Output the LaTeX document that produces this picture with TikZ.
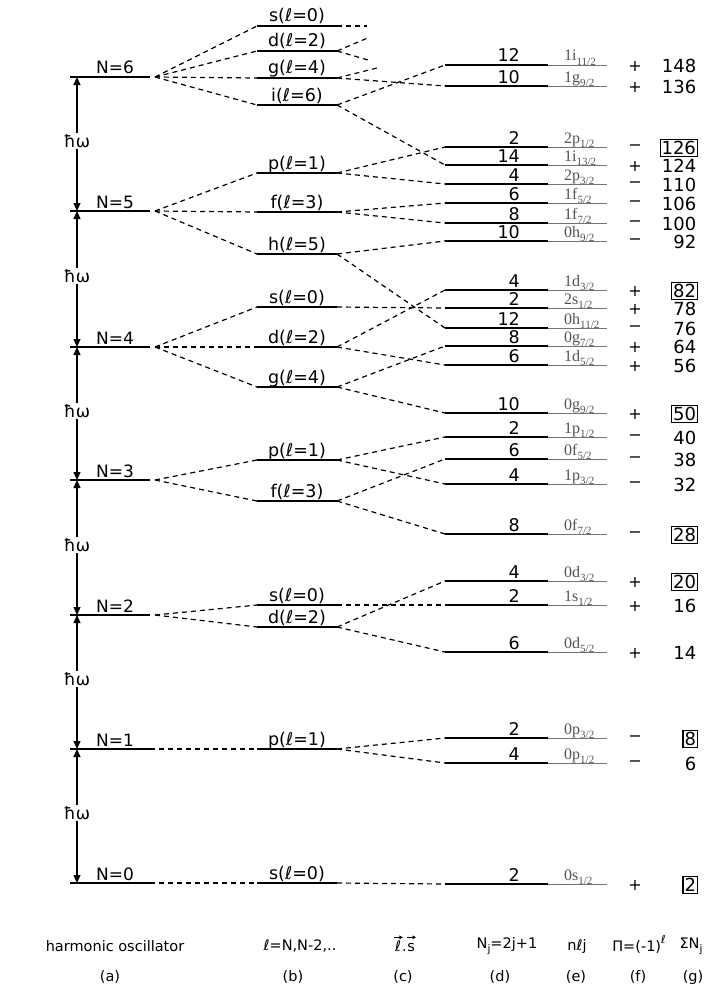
\documentclass[tikz,border=0pt]{standalone}
\usepackage{fontspec}
\setmainfont{DejaVu Sans}
\newfontfamily\tms{Liberation Serif}
\usetikzlibrary{arrows.meta}
\newcommand\jl[2]{{\tms #1\raisebox{-0.28em}{\fontsize{11}{11}\selectfont #2}}}
\tikzset{
 nline/.style={line width=1.2pt},
 lline/.style={line width=1.7pt},
 jline/.style={line width=1.7pt},
 jthin/.style={line width=0.7pt, black!55},
 conn/.style={line width=1.2pt, dash pattern=on 5pt off 4pt},
 nlab/.style={font=\fontsize{17}{17}\selectfont, anchor=base, inner sep=0pt},
 llab/.style={font=\fontsize{17.5}{17.5}\selectfont, anchor=base, inner sep=0pt},
 njlab/.style={font=\fontsize{17.5}{17.5}\selectfont, anchor=base east, inner sep=0pt},
 elab/.style={text=black!68, anchor=base west, inner sep=0pt, font=\fontsize{16}{16}\selectfont},
 sgn/.style={font=\fontsize{16}{16}\selectfont, inner sep=0pt},
 sumlab/.style={font=\fontsize{18}{18}\selectfont, anchor=east, inner sep=1.5pt},
 boxed/.style={draw, line width=1.1pt},
 hw/.style={fill=white, font=\fontsize{17}{17}\selectfont, inner sep=1.5pt},
 hoaxis/.style={line width=1.2pt, {Triangle[length=8pt,width=7pt]}-{Triangle[length=8pt,width=7pt]}},
 foot/.style={font=\fontsize{14.5}{14.5}\selectfont, inner sep=0pt},
 vecarr/.style={line width=0.9pt, -{Triangle[length=3.5pt,width=3.5pt]}},
}
\newcommand\jlev[8]{%
  \coordinate (#1-L) at (445,#2);
  \coordinate (#1-M) at (548,#2);
  \coordinate (#1-R) at (607,#2);
  \draw[jthin] (#1-M) -- (#1-R);
  \draw[jline] (#1-L) -- (#1-M);
  \node[njlab] (#1-n) at (520,#2-3) {#3};
  \node[elab] (#1-e) at (564,#2-4) {\jl{#4}{#5}};
  \node[sgn] (#1-s) at (635,#2+1) {#6};
  \node[sumlab,#8] (#1-t) at (698,#2+1) {#7};
}
\newcommand\llev[3]{%
  \coordinate (#1-L) at (257,#2);
  \coordinate (#1-R) at (337,#2);
  \draw[lline] (#1-L) -- (#1-R);
  \node[llab] (#1-t) at (297,#2-4) {#3};
}
\begin{document}
\begin{tikzpicture}[x=1pt,y=-1pt]
\useasboundingbox (0,0) rectangle (715,998);

% harmonic oscillator levels
\foreach \n/\y in {6/77,5/211,4/347,3/480,2/615,1/749,0/883} {
  \coordinate (N\n-L) at (70,\y);
  \coordinate (N\n-A) at (77,\y);
  \coordinate (N\n-R) at (150,\y);
  \coordinate (N\n-D) at (155,\y);
  \draw[nline] (N\n-L) -- (N\n-R);
  \node[nlab] (N\n-t) at (115,\y-3) {N=\n};
}
\draw[hoaxis] (N6-A) -- node[hw,pos=0.48] (hw6) {ħω} (N5-A);
\draw[hoaxis] (N5-A) -- node[hw,pos=0.48] (hw5) {ħω} (N4-A);
\draw[hoaxis] (N4-A) -- node[hw,pos=0.48] (hw4) {ħω} (N3-A);
\draw[hoaxis] (N3-A) -- node[hw,pos=0.48] (hw3) {ħω} (N2-A);
\draw[hoaxis] (N2-A) -- node[hw,pos=0.48] (hw2) {ħω} (N1-A);
\draw[hoaxis] (N1-A) -- node[hw,pos=0.48] (hw1) {ħω} (N0-A);

% l levels
\llev{s6}{26}{s(ℓ=0)}
\llev{d6}{51}{d(ℓ=2)}
\llev{g6}{78}{g(ℓ=4)}
\llev{i6}{105}{i(ℓ=6)}
\llev{p5}{173}{p(ℓ=1)}
\llev{f5}{212}{f(ℓ=3)}
\llev{h5}{254}{h(ℓ=5)}
\llev{s4}{307}{s(ℓ=0)}
\llev{d4}{347}{d(ℓ=2)}
\llev{g4}{387}{g(ℓ=4)}
\llev{p3}{460}{p(ℓ=1)}
\llev{f3}{501}{f(ℓ=3)}
\llev{s2}{605}{s(ℓ=0)}
\llev{d2}{627}{d(ℓ=2)}
\llev{p1}{749}{p(ℓ=1)}
\llev{s0}{883}{s(ℓ=0)}

% j levels
\jlev{ja}{65}{12}{1i}{11/2}{+}{148}{}
\jlev{jb}{86}{10}{1g}{9/2}{+}{136}{}
\jlev{jc}{147}{2}{2p}{1/2}{−}{126}{boxed}
\jlev{jd}{165}{14}{1i}{13/2}{+}{124}{}
\jlev{je}{184}{4}{2p}{3/2}{−}{110}{}
\jlev{jf}{203}{6}{1f}{5/2}{−}{106}{}
\jlev{jg}{223}{8}{1f}{7/2}{−}{100}{}
\jlev{jh}{241}{10}{0h}{9/2}{−}{92}{}
\jlev{ji}{290}{4}{1d}{3/2}{+}{82}{boxed}
\jlev{jj}{308}{2}{2s}{1/2}{+}{78}{}
\jlev{jk}{328}{12}{0h}{11/2}{−}{76}{}
\jlev{jl}{346}{8}{0g}{7/2}{+}{64}{}
\jlev{jm}{365}{6}{1d}{5/2}{+}{56}{}
\jlev{jn}{413}{10}{0g}{9/2}{+}{50}{boxed}
\jlev{jo}{437}{2}{1p}{1/2}{−}{40}{}
\jlev{jp}{459}{6}{0f}{5/2}{−}{38}{}
\jlev{jq}{484}{4}{1p}{3/2}{−}{32}{}
\jlev{jr}{534}{8}{0f}{7/2}{−}{28}{boxed}
\jlev{js}{581}{4}{0d}{3/2}{+}{20}{boxed}
\jlev{jt}{605}{2}{1s}{1/2}{+}{16}{}
\jlev{ju}{652}{6}{0d}{5/2}{+}{14}{}
\jlev{jv}{738}{2}{0p}{3/2}{−}{8}{boxed}
\jlev{jw}{763}{4}{0p}{1/2}{−}{6}{}
\jlev{jx}{884}{2}{0s}{1/2}{+}{2}{boxed}

% N -> l connectors
\draw[conn] (N6-D) -- (s6-L);
\draw[conn] (N6-D) -- (d6-L);
\draw[conn] (N6-D) -- (g6-L);
\draw[conn] (N6-D) -- (i6-L);
\draw[conn] (N5-D) -- (p5-L);
\draw[conn] (N5-D) -- (f5-L);
\draw[conn] (N5-D) -- (h5-L);
\draw[conn] (N4-D) -- (s4-L);
\draw[conn] (N4-D) -- (d4-L);
\draw[conn] (N4-D) -- (g4-L);
\draw[conn] (N3-D) -- (p3-L);
\draw[conn] (N3-D) -- (f3-L);
\draw[conn] (N2-D) -- (s2-L);
\draw[conn] (N2-D) -- (d2-L);
\draw[conn] (N1-R) -- (p1-L);
\draw[conn] (N0-R) -- (s0-L);

% truncated top connectors
\coordinate (t1) at (367,26);
\coordinate (t2) at (370,37);
\coordinate (t3) at (368,60);
\coordinate (t4) at (377,68);
\draw[conn] (s6-R) -- (t1);
\draw[conn] (d6-R) -- (t2);
\draw[conn] (d6-R) -- (t3);
\draw[conn] (g6-R) -- (t4);

% l -> j connectors
\draw[conn] (i6-R) -- (ja-L);
\draw[conn] (i6-R) -- (jd-L);
\draw[conn] (g6-R) -- (jb-L);
\draw[conn] (p5-R) -- (jc-L);
\draw[conn] (p5-R) -- (je-L);
\draw[conn] (f5-R) -- (jf-L);
\draw[conn] (f5-R) -- (jg-L);
\draw[conn] (h5-R) -- (jh-L);
\draw[conn] (h5-R) -- (jk-L);
\draw[conn] (s4-R) -- (jj-L);
\draw[conn] (d4-R) -- (ji-L);
\draw[conn] (d4-R) -- (jm-L);
\draw[conn] (g4-R) -- (jl-L);
\draw[conn] (g4-R) -- (jn-L);
\draw[conn] (p3-R) -- (jo-L);
\draw[conn] (p3-R) -- (jq-L);
\draw[conn] (f3-R) -- (jp-L);
\draw[conn] (f3-R) -- (jr-L);
\draw[conn] (s2-R) -- (jt-L);
\draw[conn] (d2-R) -- (js-L);
\draw[conn] (d2-R) -- (ju-L);
\draw[conn] (p1-R) -- (jv-L);
\draw[conn] (p1-R) -- (jw-L);
\draw[conn] (s0-R) -- (jx-L);

% column captions
\node[foot] (ca) at (115,946) {harmonic oscillator};
\node[foot] (ca2) at (110,977) {(a)};
\node[foot] (cb) at (300,946) {ℓ=N,N-2,..};
\node[foot] (cb2) at (293,977) {(b)};
\node[foot] (cc) at (405,946) {ℓ\kern1pt.\kern0.5pt s};
\draw[vecarr] ([shift={(-1,-3)}]cc.north west) -- ([shift={(8,-3)}]cc.north west);
\draw[vecarr] ([shift={(-8,-3)}]cc.north east) -- ([shift={(1,-3)}]cc.north east);
\node[foot] (cc2) at (403,977) {(c)};
\node[foot] (cd) at (507,946) {N\raisebox{-0.3em}{\fontsize{10.5}{10.5}\selectfont j}=2j+1};
\node[foot] (cd2) at (500,977) {(d)};
\node[foot] (ce) at (577,946) {nℓj};
\node[foot] (ce2) at (576,977) {(e)};
\node[foot] (cf) at (639,944) {Π=(-1)\raisebox{0.55em}{\fontsize{11}{11}\selectfont ℓ}};
\node[foot] (cf2) at (638,977) {(f)};
\node[foot] (cg) at (691,946) {ΣN\raisebox{-0.3em}{\fontsize{10.5}{10.5}\selectfont j}};
\node[foot] (cg2) at (693,977) {(g)};
\end{tikzpicture}
\end{document}
